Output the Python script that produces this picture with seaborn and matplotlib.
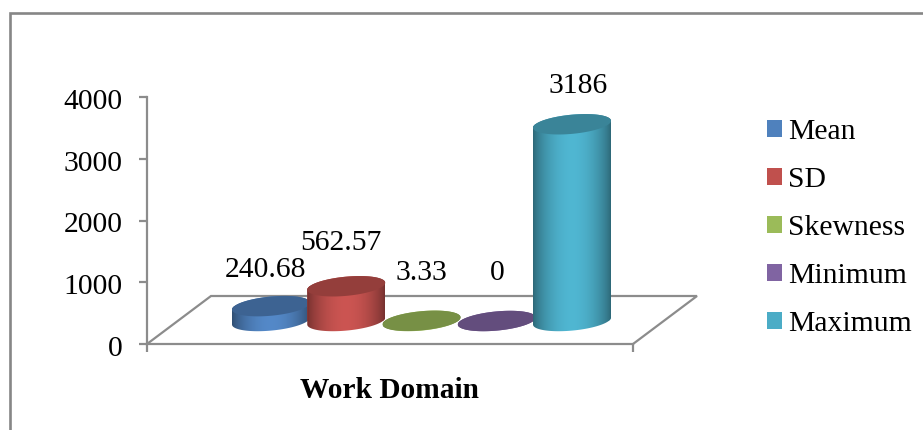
import numpy as np
import pandas as pd
import matplotlib
matplotlib.use("Agg")
import matplotlib.pyplot as plt
from matplotlib.lines import Line2D
from matplotlib.patches import Polygon
from matplotlib.colors import to_rgb
from matplotlib.transforms import ScaledTranslation
import seaborn as sns

# --- data ---
categories = ["Mean", "SD", "Skewness", "Minimum", "Maximum"]
values = [240.68, 562.57, 3.33, 0, 3186]
y_ticks = [0, 1000, 2000, 3000, 4000]
colors = ["#4F81BD", "#C0504D", "#9BBB59", "#8064A2", "#4BACC6"]
group_label = "Work Domain"

# --- layout (pixels of a 923x430 picture) ---
W, H = 923, 430
AX_L, AX_R, AX_T, AX_B = 147, 633, 97, 344
X0_PX, X_STEP = 271, 75.25
FLOOR_PX = 321
DEPTH_X, DEPTH_Y = 64, 48
SEMI_A, SEMI_B, SHEAR = 39, 9.6, 3.5
label_dx = [-5, -5, 0, 1, 6]
label_dy = [36, 43, 48, 48, 38]
FS = 21.3
GREY = "#8C8C8C"

sns.set_theme(style="white")
plt.rcParams["font.family"] = ["Liberation Serif", "DejaVu Serif"]
plt.rcParams["text.color"] = "black"

fig = plt.figure(figsize=(W / 100, H / 100), dpi=100, facecolor="white")
ax = fig.add_axes([AX_L / W, 1 - AX_B / H, (AX_R - AX_L) / W, (AX_B - AX_T) / H])

df = pd.DataFrame({"stat": categories, "value": values})
sns.barplot(data=df, x="stat", y="value", hue="stat", order=categories,
            hue_order=categories, palette=colors, dodge=False, saturation=1,
            width=2 * SEMI_A / X_STEP, legend=True, ax=ax, linewidth=0)

xlim = ((AX_L - X0_PX) / X_STEP, (AX_R - X0_PX) / X_STEP)
ymax = y_ticks[-1]
ppu = (AX_B - AX_T) / ymax            # pixels per value unit
ax.set_xlim(*xlim)
ax.set_ylim(0, ymax)

sx = 1 / X_STEP
sy = 1 / ppu
floor = (AX_B - FLOOR_PX) * sy


def ring(cx, cy, t):
    """Sheared ellipse points, in data units."""
    return np.column_stack([cx + SEMI_A * np.cos(t) * sx,
                            cy + (SEMI_B * np.sin(t) + SHEAR * np.cos(t)) * sy])


def shaded(rgb):
    u = np.linspace(0, 1, 160)
    s = 0.60 + 0.46 * np.sin(np.pi * u) ** 0.75
    return np.clip(np.outer(s, rgb), 0, 1)[None, :, :]


# floor
fx0, fx1 = xlim
dx, dy = DEPTH_X * sx, DEPTH_Y * sy
ax.plot([fx0, fx0 + dx, fx1 + dx, fx1], [0, dy, dy, 0], color=GREY, lw=1.6,
        clip_on=False, zorder=1, solid_joinstyle="miter")

# cylinders, built on the bars that seaborn drew
bars = [p for c in ax.containers for p in c]
bars = sorted(bars, key=lambda b: b.get_x() + b.get_width() / 2)
for i, (bar, v, col) in enumerate(zip(bars, values, colors)):
    rgb = np.array(to_rgb(col))
    cx = bar.get_x() + bar.get_width() / 2
    top = floor + v
    bar.set_y(floor)
    low = ring(cx, floor, np.linspace(np.pi, 2 * np.pi, 80))
    up = ring(cx, top, np.linspace(0, np.pi, 80))
    z = 3 + i * 3
    body = Polygon(np.vstack([low, up]), closed=True, transform=ax.transData,
                   facecolor="none", edgecolor="none")
    ax.add_patch(body)
    bar.set_zorder(z)
    bar.set_clip_path(body)
    im = ax.imshow(shaded(rgb), aspect="auto", zorder=z + 0.5, interpolation="bilinear",
                   extent=(cx - SEMI_A * sx, cx + SEMI_A * sx,
                           floor - 15 * sy, top + 15 * sy))
    im.set_clip_path(body)
    ax.add_patch(Polygon(ring(cx, top, np.linspace(0, 2 * np.pi, 120)), closed=True,
                         facecolor=rgb * 0.77, edgecolor="none", zorder=z + 1,
                         clip_on=False))
    ax.annotate(f"{v:g}", xy=(cx, top), xytext=(label_dx[i] * 0.72, label_dy[i] * 0.72),
                textcoords="offset points", ha="center", va="center",
                fontsize=FS, color="black", zorder=30, annotation_clip=False)

ax.set_xlim(*xlim)
ax.set_ylim(0, ymax)

# axes
for s in ("top", "right"):
    ax.spines[s].set_visible(False)
for s in ("left", "bottom"):
    ax.spines[s].set_color(GREY)
    ax.spines[s].set_linewidth(1.6)
ax.set_yticks(y_ticks)
ax.set_xticks(list(xlim))
ax.set_xticklabels([])
ax.tick_params(axis="both", which="major", length=5.8, width=1.6, color=GREY,
               left=True, bottom=True)
ax.tick_params(axis="y", labelsize=FS, labelcolor="black", pad=11.5)
shift = ScaledTranslation(0, -2 / 100, fig.dpi_scale_trans)
for lab in ax.get_yticklabels():
    lab.set_transform(lab.get_transform() + shift)
ax.set_ylabel("")
ax.set_xlabel(group_label, fontsize=21.2, fontweight="bold", color="black", labelpad=14.5)

# legend
sns.move_legend(ax, loc="upper left", bbox_to_anchor=(767 / W, 1 - 119 / H),
                bbox_transform=fig.transFigure, frameon=False, title=None,
                fontsize=FS, handlelength=0.51, handleheight=0.51,
                handletextpad=0.19, labelspacing=0.745, borderpad=0, borderaxespad=0)

# outer frame
fig.add_artist(Line2D([9.5 / W, 9.5 / W, 1], [0, 1 - 12.5 / H, 1 - 12.5 / H],
                      color="#868686", lw=1.9, solid_joinstyle="miter"))

fig.savefig("out.png", dpi=100, facecolor="white")
